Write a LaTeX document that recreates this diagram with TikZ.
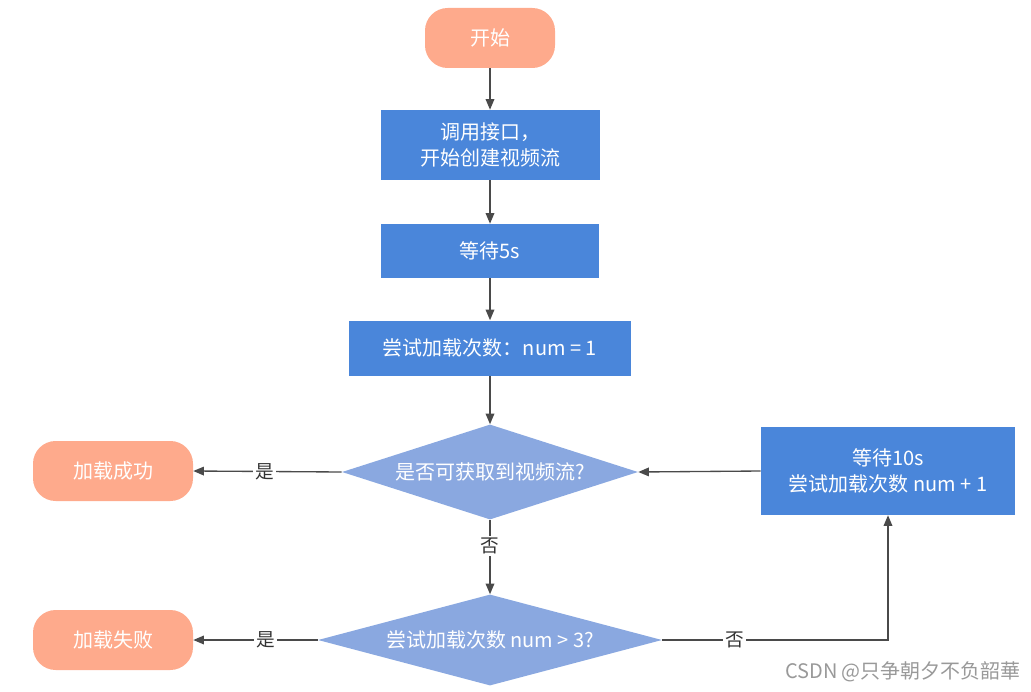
\documentclass[tikz,border=0pt]{standalone}
\usepackage{fontspec}
\setmainfont{Noto Sans CJK SC}
\usetikzlibrary{arrows.meta, shapes.geometric}
\definecolor{termcol}{HTML}{FEAA8C}
\definecolor{boxcol}{HTML}{4A86DA}
\definecolor{deccol}{HTML}{8AA8E0}
\definecolor{linecol}{HTML}{4A4A4A}

\begin{document}
\begin{tikzpicture}[x=0.75pt, y=-0.75pt,
  term/.style={rectangle, rounded corners=17pt, fill=termcol, text=white,
    minimum width=120pt, minimum height=45pt, font=\fontsize{15}{18}\selectfont},
  proc/.style={rectangle, fill=boxcol, text=white, align=center,
    font=\fontsize{15}{20}\selectfont},
  dec/.style={diamond, fill=deccol, text=white, inner sep=0pt,
    font=\fontsize{15}{18}\selectfont},
  arr/.style={draw=linecol, line width=1pt, -{Triangle[length=8pt, width=6.5pt]}},
  lbl/.style={fill=white, inner sep=1.5pt, text=black!80, font=\fontsize{14}{16}\selectfont}]
\useasboundingbox (0,0) rectangle (1031,692);
\node[term, minimum width=97.5pt] (start) at (490,38) {开始};
\node[proc, minimum width=164.25pt, minimum height=52.5pt] (call) at (490,145) {调用接口，\\开始创建视频流};
\node[proc, minimum width=163.5pt, minimum height=40.5pt] (wait) at (490,251) {等待5s};
\node[proc, minimum width=211.5pt, minimum height=41.25pt] (init) at (490,348) {尝试加载次数：num = 1};
\node[dec, aspect=3.1, minimum width=222pt, minimum height=71.25pt] (q1) at (490,472) {是否可获取到视频流?};
\node[dec, aspect=3.7, minimum width=258pt, minimum height=68.25pt] (q2) at (490,640) {尝试加载次数 num > 3?};
\node[term] (ok) at (113,471) {加载成功};
\node[term] (fail) at (113,640) {加载失败};
\node[proc, minimum width=190.5pt, minimum height=66pt] (retry) at (888,471) {等待10s\\尝试加载次数 num + 1};
\node[text=black!40, font=\fontsize{15}{18}\selectfont] (mark) at (903,672) {CSDN @只争朝夕不负韶華};
\draw[arr] (start) -- (call);
\draw[arr] (call) -- (wait);
\draw[arr] (wait) -- (init);
\draw[arr] (init) -- (q1);
\draw[arr] (q1.west) -- node[lbl, pos=0.52]{是} (ok.east);
\draw[arr] (q1) -- node[lbl, pos=0.35]{否} (q2);
\draw[arr] (q2.west) -- node[lbl, pos=0.42]{是} (fail.east);
\draw[arr] (q2.east) -| node[lbl, pos=0.16]{否} (retry.south);
\draw[arr] (retry.west) -- (q1.east);
\end{tikzpicture}
\end{document}
